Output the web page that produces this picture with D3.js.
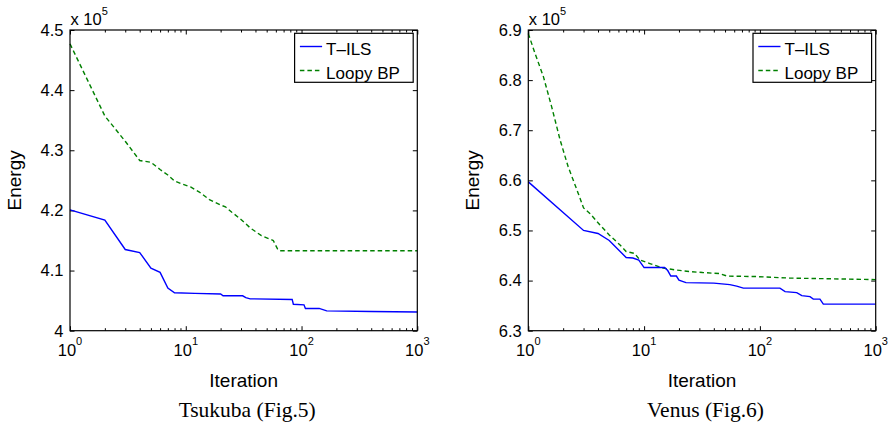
<!DOCTYPE html>
<html>
<head>
<meta charset="utf-8">
<script src="https://cdn.jsdelivr.net/npm/d3@7"></script>
<style>
  body { margin: 0; background: #fff; }
  text { font-family: "Liberation Sans", Arial, Helvetica, sans-serif; fill: #000; }
  .caption { font-family: "Liberation Serif", "Times New Roman", serif; }
</style>
</head>
<body>
<div id="chart"></div>
<script>
const width = 894, height = 425;

// shared bits
const seriesNames = ["T\u2013ILS", "Loopy BP"];
const xTicks = [1, 10, 100, 1000];
const xTickExp = ["0", "1", "2", "3"];

// Tsukuba (energy in units of 1e5)
const tsukubaYTicks = [4, 4.1, 4.2, 4.3, 4.4, 4.5];
const tsukubaTils = [
  [1, 4.201], [2, 4.184], [3, 4.135], [4, 4.130], [5, 4.104], [6, 4.097], [7, 4.071],
  [8, 4.063], [12, 4.062], [20, 4.061], [21, 4.058], [31, 4.058], [33, 4.055], [36, 4.053],
  [83, 4.052], [85, 4.044], [105, 4.043], [108, 4.037], [142, 4.037], [165, 4.033],
  [400, 4.032], [1000, 4.031]
];
const tsukubaBP = [
  [1, 4.477], [2, 4.357], [3, 4.315], [4, 4.283], [5, 4.280], [6, 4.268], [7, 4.259],
  [8, 4.249], [9, 4.245], [11, 4.239], [13, 4.231], [16, 4.218], [20, 4.209], [22, 4.206],
  [25, 4.197], [30, 4.185], [36, 4.171], [45, 4.158], [57, 4.150], [62, 4.136], [64, 4.133],
  [1000, 4.133]
];

// Venus
const venusYTicks = [6.3, 6.4, 6.5, 6.6, 6.7, 6.8, 6.9];
const venusTils = [
  [1, 6.597], [3, 6.500], [4, 6.494], [5, 6.480], [7, 6.446], [8, 6.445], [9, 6.441],
  [10, 6.426], [15, 6.426], [16, 6.420], [17, 6.409], [19, 6.409], [20, 6.401], [23, 6.396],
  [40, 6.395], [55, 6.392], [63, 6.389], [72, 6.385], [149, 6.385], [165, 6.378], [208, 6.376],
  [230, 6.370], [271, 6.368], [289, 6.363], [330, 6.363], [353, 6.353], [1000, 6.353]
];
const venusBP = [
  [1, 6.893], [1.14, 6.854], [1.35, 6.807], [1.59, 6.747], [1.88, 6.681], [2.21, 6.627],
  [2.7, 6.574], [3, 6.545], [3.4, 6.534], [4.16, 6.511], [5, 6.491], [6.2, 6.471], [7, 6.458],
  [8.3, 6.454], [9.2, 6.441], [11.2, 6.434], [14.6, 6.425], [19, 6.421], [25, 6.418],
  [32, 6.416], [45, 6.414], [52, 6.409], [94, 6.408], [180, 6.405], [1000, 6.402]
];

const svg = d3.select("#chart")
  .append("svg")
  .attr("width", width)
  .attr("height", height);

function drawPanel(p) {
  const x = d3.scaleLog().domain([1, 1000]).range([p.left, p.right]);
  const y = d3.scaleLinear().domain(d3.extent(p.yTicks)).range([p.bottom, p.top]);
  const g = svg.append("g");

  // minor ticks 2..9 per decade
  const minor = [];
  for (let d = 1; d < 1000; d *= 10) for (let k = 2; k <= 9; k++) minor.push(d * k);

  // inward ticks, all four sides
  g.append("g").attr("transform", `translate(0,${p.bottom})`)
    .call(d3.axisBottom(x).tickValues(minor).tickSize(-2.5).tickFormat(""));
  g.append("g").attr("transform", `translate(0,${p.top})`)
    .call(d3.axisTop(x).tickValues(minor).tickSize(-2.5).tickFormat(""));
  g.append("g").attr("transform", `translate(0,${p.bottom})`)
    .call(d3.axisBottom(x).tickValues(xTicks).tickSize(-4.5).tickFormat(""));
  g.append("g").attr("transform", `translate(0,${p.top})`)
    .call(d3.axisTop(x).tickValues(xTicks).tickSize(-4.5).tickFormat(""));
  g.append("g").attr("transform", `translate(${p.left},0)`)
    .call(d3.axisLeft(y).tickValues(p.yTicks).tickSize(-4.5).tickFormat(""));
  g.append("g").attr("transform", `translate(${p.right},0)`)
    .call(d3.axisRight(y).tickValues(p.yTicks).tickSize(-4.5).tickFormat(""));
  g.selectAll(".domain").remove();
  g.selectAll(".tick line").attr("stroke", "#000").attr("stroke-width", 1);

  // data lines
  const line = d3.line().x(d => x(d[0])).y(d => y(d[1]));
  g.append("path").datum(p.bp)
    .attr("d", line).attr("fill", "none")
    .attr("stroke", "#008000").attr("stroke-width", 1.4)
    .attr("stroke-dasharray", "4.5,3");
  g.append("path").datum(p.tils)
    .attr("d", line).attr("fill", "none")
    .attr("stroke", "#0000ff").attr("stroke-width", 1.4);

  // frame
  g.append("rect")
    .attr("x", p.left).attr("y", p.top)
    .attr("width", p.right - p.left).attr("height", p.bottom - p.top)
    .attr("fill", "none").attr("stroke", "#000").attr("stroke-width", 1.2);

  // y tick labels
  g.selectAll(".ylab").data(p.yTicks).join("text")
    .attr("x", p.left - 6.5).attr("y", d => y(d) + 5.8)
    .attr("text-anchor", "end").style("font-size", "16.5px")
    .text(d => String(d));

  // x tick labels 10^k
  const xl = g.selectAll(".xlab").data(xTicks).join("text")
    .attr("x", d => x(d)).attr("y", p.bottom + 25.5)
    .attr("text-anchor", "middle").style("font-size", "16.5px");
  xl.append("tspan").text("10");
  xl.append("tspan").attr("dy", -11).style("font-size", "11px").text((d, i) => xTickExp[i]);

  // exponent multiplier
  const ex = g.append("text").attr("x", p.left + 0.5).attr("y", 25).style("font-size", "16.5px");
  ex.append("tspan").text("x 10");
  ex.append("tspan").attr("dy", -10).style("font-size", "11px").text("5");

  // axis titles
  g.append("text")
    .attr("x", (p.left + p.right) / 2).attr("y", 386.5)
    .attr("text-anchor", "middle").style("font-size", "19px")
    .text("Iteration");
  g.append("text")
    .attr("transform", `translate(${p.left - 49.5},${(p.top + p.bottom) / 2}) rotate(-90)`)
    .attr("text-anchor", "middle").style("font-size", "19px")
    .text("Energy");

  // caption
  g.append("text").attr("class", "caption")
    .attr("x", (p.left + p.right) / 2 + 3.5).attr("y", 417)
    .attr("text-anchor", "middle").style("font-size", "21.5px")
    .text(p.caption);

  // legend
  const lx = p.right - 122.7, ly = 33.3;
  const lg = g.append("g");
  lg.append("rect").attr("x", lx).attr("y", ly).attr("width", 118.6).attr("height", 49)
    .attr("fill", "#fff").attr("stroke", "#000").attr("stroke-width", 1.2);
  const styles = [{ c: "#0000ff", dash: null }, { c: "#008000", dash: "4.5,3" }];
  seriesNames.forEach((name, i) => {
    const yy = ly + 13.2 + i * 24;
    lg.append("line").attr("x1", lx + 5.3).attr("x2", lx + 27.5)
      .attr("y1", yy).attr("y2", yy)
      .attr("stroke", styles[i].c).attr("stroke-width", 1.4)
      .attr("stroke-dasharray", styles[i].dash);
    lg.append("text").attr("x", lx + 31.5).attr("y", yy + 8.2)
      .style("font-size", "17px").text(name);
  });
}

drawPanel({ left: 70, right: 417.3, top: 30, bottom: 330.7,
  yTicks: tsukubaYTicks, tils: tsukubaTils, bp: tsukubaBP, caption: "Tsukuba (Fig.5)" });
drawPanel({ left: 528.3, right: 875.7, top: 30, bottom: 330.7,
  yTicks: venusYTicks, tils: venusTils, bp: venusBP, caption: "Venus (Fig.6)" });
</script>
</body>
</html>
